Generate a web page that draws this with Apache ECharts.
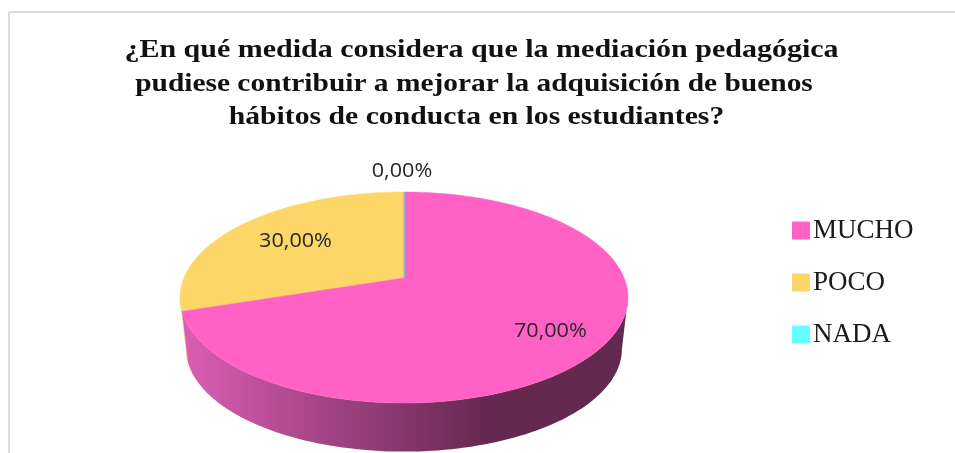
<!DOCTYPE html>
<html><head><meta charset="utf-8">
<style>html,body{margin:0;padding:0;background:#fff}#c{width:955px;height:453px}</style>
<script src="https://cdn.jsdelivr.net/npm/echarts@6/dist/echarts.min.js"></script>
</head><body><div id="c"></div>
<script>
// DATA
const categories = ['MUCHO', 'POCO', 'NADA'];
const values = [70, 30, 0];
const labelsText = ['70,00%', '30,00%', '0,00%'];
const titleLines = [
  '¿En qué medida considera que la mediación pedagógica',
  'pudiese contribuir a mejorar la adquisición de buenos',
  'hábitos de conducta en los estudiantes?'
];
// STYLE / LAYOUT
const colors = ['#FF62C4', '#FCD666', '#66FFFF'];
const titleX = [481.5, 474, 476.5], titleY = [51, 85, 118], titleScale = [1.2, 1.177, 1.187];
const cx = 404, cy = 278;      // projected pie centre
const rx = 220.1, ry = 101.9;  // perspective radii
const k = 0.1848;              // perspective strength
const depth = 52, wallScale = 0.973;
const labelFrac = [0.75, 0.75, 1.25];
const labelShift = [[1, 4], [15, 5], [-2, -3]];

const total = values.reduce((a, b) => a + b, 0);
function proj(deg, f, off, s) {
  const t = deg * Math.PI / 180, u = f * Math.cos(t), v = f * Math.sin(t), w = 1 - k * v;
  return [cx + s * rx * u / w, cy + off + s * ry * v / w];
}
function ring(a, b, off, s) {
  const pts = [], n = Math.max(2, Math.ceil(Math.abs(b - a) / 1.5));
  for (let i = 0; i <= n; i++) pts.push(proj(a + (b - a) * i / n, 1, off, s));
  return pts;
}
// Slice angles clockwise from 12 o'clock
const spans = [];
let acc = -90;
values.forEach(v => { const d = v / total * 360; spans.push([acc, acc + d]); acc += d; });

const tangentR = Math.asin(k) * 180 / Math.PI;
const tangentL = 180 - tangentR;
function wallPoly(a, b) {
  return ring(a, b, 0, 1).concat(ring(b, a, depth, wallScale));
}

function renderWall(params, api) {
  const i = api.value(0);
  if (i === 0) {
    return { type: 'polygon', z2: 2,
      shape: { points: wallPoly(tangentR, spans[0][1]) },
      style: { fill: new echarts.graphic.LinearGradient(0, 0, 1, 0, [
        { offset: 0, color: '#DB5EB4' }, { offset: 0.68, color: '#662850' }, { offset: 1, color: '#612A4E' }]) } };
  }
  return { type: 'polygon', z2: 1,
    shape: { points: wallPoly(spans[0][1], tangentL) },
    style: { fill: colors[1], stroke: colors[1], lineWidth: 0.5 } };
}
function renderTop(params, api) {
  const i = api.value(0);
  const [a, b] = spans[i];
  const pts = [[cx, cy]].concat(ring(a, b, 0, 1));
  const mid = (a + b) / 2;
  const p = proj(mid, labelFrac[i], 0, 1);
  return { type: 'group', children: [
    { type: 'polygon', shape: { points: pts }, z2: 1,
      style: { fill: colors[i], stroke: values[i] === 0 ? '#6FD8F0' : colors[i], lineWidth: values[i] === 0 ? 1 : 0.5 } },
    { type: 'text', z2: 5, x: p[0] + labelShift[i][0], y: p[1] + labelShift[i][1], scaleX: 1.08,
      style: { text: labelsText[i], fill: '#262626', font: '20px "Open Sans"', align: 'center', verticalAlign: 'middle' } }
  ] };
}
const noAxis = { coordinateSystem: 'none', animation: false, silent: true };
const series = [
  Object.assign({ type: 'custom', name: 'wall', z: 1, renderItem: renderWall, data: [[0], [1]] }, noAxis)
].concat(categories.map((c, i) => Object.assign({
  type: 'custom', name: c, z: 2 + (i === 1 ? 0 : i === 0 ? 1 : 2), color: colors[i], renderItem: renderTop, data: [[i]],
  itemStyle: { color: colors[i] }
}, noAxis)));

const chart = echarts.init(document.getElementById('c'), null, { renderer: 'canvas' });
chart.setOption({
  animation: false,
  backgroundColor: '#fff',
  legend: {
    data: categories, orient: 'vertical', left: 792, top: 217, itemWidth: 18, itemHeight: 18,
    icon: 'path://M1,0H17Q18,0 18,1V17Q18,18 17,18H1Q0,18 0,17V1Q0,0 1,0Z', itemGap: 25, selectedMode: false, padding: 0,
    textStyle: { fontFamily: '"Liberation Serif"', fontSize: 27, color: '#1a1a1a', padding: [2, 0, 0, -2] },
  },
  graphic: [
    { type: 'line', shape: { x1: 9, y1: 12, x2: 955, y2: 12 }, style: { stroke: '#DBDBDB', lineWidth: 2 }, silent: true },
    { type: 'line', shape: { x1: 9, y1: 12, x2: 9, y2: 453 }, style: { stroke: '#DBDBDB', lineWidth: 2 }, silent: true }
  ].concat(titleLines.map((t, i) => ({
    type: 'text', x: titleX[i], y: titleY[i], scaleX: titleScale[i], silent: true,
    style: { text: t, fill: '#111', font: 'bold 25px "Liberation Serif"', align: 'center', verticalAlign: 'middle' }
  }))),
  series
});
</script></body></html>
